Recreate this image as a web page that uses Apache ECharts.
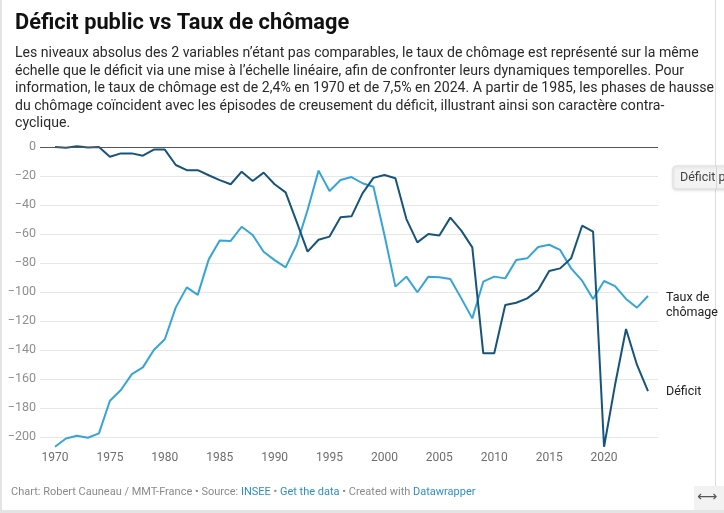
<!DOCTYPE html>
<html>
<head>
<meta charset="utf-8">
<script src="https://cdn.jsdelivr.net/npm/echarts@6/dist/echarts.min.js"></script>
<style>
html,body{margin:0;padding:0;background:#fff;}
#chart{width:724px;height:513px;}
</style>
</head>
<body>
<div id="chart"></div>
<script>
// ---- Data ----
const years = [];
for (let y = 1970; y <= 2024; y++) years.push(y);

const deficit = [
  0, -0.5, 0.5, -0.3, 0, -6.7, -4.4, -4.4, -6, -1.8,
  -1.8, -12.4, -16, -16, -19.5, -22.8, -25.7, -17, -23.4, -17.7,
  -25.7, -31.3, -51.5, -72.2, -64, -61.8, -48.5, -47.8, -32, -21.3,
  -19.3, -21.6, -49.7, -65.8, -60, -61.1, -48.7, -57.7, -69.2, -142.3,
  -142.3, -109, -107.4, -104.4, -98.6, -85.5, -83.7, -76.8, -54.3, -58.4,
  -206.7, -164, -125.5, -150.3, -168.3
];

const chomage = [
  -206.7, -201, -199.2, -200.5, -197.5, -175, -167.6, -156.6, -152, -140,
  -132.6, -110.6, -96.8, -102, -77.5, -64.4, -64.8, -55, -60.7, -72.2,
  -78, -83, -67.6, -43.4, -16.3, -30.3, -22.8, -20.7, -25, -27.4,
  -60.7, -96.3, -89.4, -100.2, -89.4, -89.9, -91, -104.4, -118.2, -92.9,
  -89.4, -90.6, -78, -76.8, -69, -67.4, -71, -83.7, -92.2, -104.8,
  -92.4, -95.9, -104.8, -110.8, -102.8
];

const yTicks = [0, -20, -40, -60, -80, -100, -120, -140, -160, -180, -200];

const titleText = 'Déficit public vs Taux de chômage';
const subtitleText = [
  'Les niveaux absolus des 2 variables n’étant pas comparables, le taux de chômage est représenté sur la même',
  'échelle que le déficit via une mise à l’échelle linéaire, afin de confronter leurs dynamiques temporelles. Pour',
  'information, le taux de chômage est de 2,4% en 1970 et de 7,5% en 2024. A partir de 1985, les phases de hausse',
  'du chômage coïncident avec les épisodes de creusement du déficit, illustrant ainsi son caractère contra-',
  'cyclique.'
].join('\n');

const FONT = 'Roboto, "Noto Sans", sans-serif';
const chart = echarts.init(document.getElementById('chart'), null, {renderer: 'canvas'});

const minus = v => (v < 0 ? '\u2212' + Math.abs(v) : String(v));

chart.setOption({
  animation: false,
  backgroundColor: '#fff',
  textStyle: {fontFamily: FONT},
  title: [
    {
      text: titleText,
      left: 10, top: 6,
      textStyle: {fontFamily: FONT, fontSize: 21.8, fontWeight: 700, color: '#111', lineHeight: 26}
    },
    {
      text: subtitleText,
      left: 10, top: 40,
      textStyle: {fontFamily: FONT, fontSize: 14.1, fontWeight: 400, color: '#2a2a2a', lineHeight: 17.5}
    }
  ],
  grid: {left: 40, right: 66, top: 147, bottom: 76, containLabel: false},
  xAxis: {
    type: 'value',
    min: 1968.634,
    max: 2024.911,
    splitNumber: 11,
    axisLine: {show: false},
    axisTick: {show: false},
    splitLine: {show: false},
    axisLabel: {
      margin: 15,
      color: '#6e6e6e',
      fontSize: 12,
      fontFamily: FONT,
      formatter: v => (Math.abs(v % 5) < 1e-6 ? String(Math.round(v)) : '')
    }
  },
  yAxis: {
    type: 'value',
    min: -200,
    max: 0,
    interval: 20,
    axisLine: {show: false},
    axisTick: {show: false},
    splitLine: {lineStyle: {color: '#e6e6e6', width: 1}},
    axisLabel: {
      margin: 4,
      color: '#8f8f8f',
      fontSize: 12.5,
      fontFamily: FONT,
      formatter: v => (yTicks.indexOf(v) >= 0 ? minus(v) : '')
    }
  },
  series: [
    {
      name: 'Taux de chômage',
      type: 'line',
      data: years.map((y, i) => [y, chomage[i]]),
      showSymbol: false,
      clip: false,
      lineStyle: {color: '#36a5d5', width: 2},
      itemStyle: {color: '#36a5d5'},
      endLabel: {
        show: true,
        formatter: 'Taux de\nchômage',
        distance: 18,
        offset: [0, 9],
        color: '#222',
        fontSize: 12.5,
        lineHeight: 15,
        fontFamily: FONT
      },
      z: 2
    },
    {
      name: 'Déficit',
      type: 'line',
      data: years.map((y, i) => [y, deficit[i]]),
      showSymbol: false,
      clip: false,
      lineStyle: {color: '#17547a', width: 2},
      itemStyle: {color: '#17547a'},
      endLabel: {
        show: true,
        formatter: 'Déficit',
        distance: 18,
        offset: [0, 1],
        color: '#222',
        fontSize: 12.5,
        fontFamily: FONT
      },
      markLine: {
        silent: true,
        symbol: 'none',
        label: {show: false},
        lineStyle: {color: '#555', width: 1, type: 'solid'},
        data: [{yAxis: 0}]
      },
      z: 3
    }
  ],
  graphic: [
    // frame artifacts
    {type: 'rect', shape: {x: 0, y: 0, width: 2, height: 513}, style: {fill: '#e4e4e4'}, silent: true},
    {type: 'rect', shape: {x: 0, y: 510, width: 724, height: 3}, style: {fill: '#e4e4e4'}, silent: true},
    {type: 'rect', shape: {x: 715, y: 0, width: 1, height: 486}, style: {fill: '#dcdcdc'}, silent: true},
    {type: 'rect', shape: {x: 694, y: 486, width: 30, height: 24}, style: {fill: '#f2f2f2'}, silent: true},
    {type: 'text', left: 697, top: 490, style: {text: '⟷', fill: '#555', font: '14px "DejaVu Sans"'}, silent: true},
    // tooltip fragment
    {
      type: 'rect',
      shape: {x: 673, y: 166, width: 60, height: 23, r: 3},
      style: {fill: '#f3f3f3', stroke: '#dedede', lineWidth: 1, shadowBlur: 3, shadowColor: 'rgba(0,0,0,0.12)', shadowOffsetY: 1},
      z: 10, silent: true
    },
    {type: 'rect', shape: {x: 716, y: 166, width: 1, height: 23}, style: {fill: '#d6d6d6'}, z: 11, silent: true},
    {type: 'text', x: 680, y: 171, style: {text: 'Déficit p', fill: '#444', font: '12.5px ' + FONT}, z: 11, silent: true},
    // footer
    {
      type: 'text',
      x: 11, y: 487,
      style: {
        text: '{g|Chart: Robert Cauneau / MMT-France • Source: }{b|INSEE}{g| • }{b|Get the data}{g| • Created with }{b|Datawrapper}',
        font: '11px ' + FONT,
        rich: {
          g: {fill: '#8a8a8a', fontSize: 11, fontFamily: FONT},
          b: {fill: '#2e8fc4', fontSize: 11, fontFamily: FONT}
        }
      },
      silent: true
    }
  ]
});
</script>
</body>
</html>
